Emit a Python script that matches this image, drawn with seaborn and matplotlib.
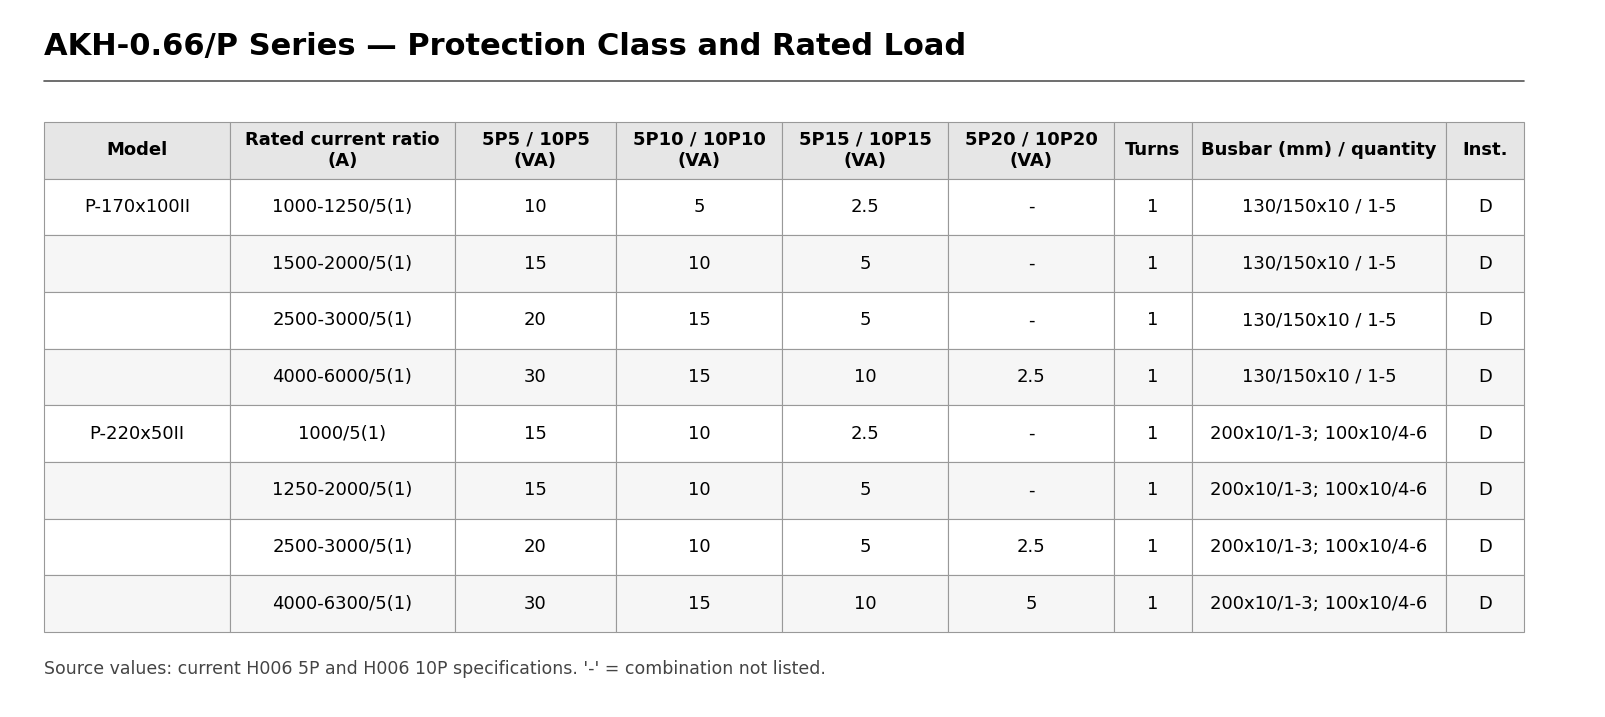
import matplotlib.pyplot as plt
import seaborn as sns

sns.set_theme(style="white")
plt.rcParams['font.family'] = ['DejaVu Sans']
plt.rcParams['font.sans-serif'] = ['DejaVu Sans']
plt.rcParams['text.color'] = 'black'

# --- data ---
columns = ["Model", "Rated current ratio\n(A)", "5P5 / 10P5\n(VA)", "5P10 / 10P10\n(VA)",
           "5P15 / 10P15\n(VA)", "5P20 / 10P20\n(VA)", "Turns", "Busbar (mm) / quantity", "Inst."]
models = ["P-170x100II", "", "", "", "P-220x50II", "", "", ""]
ratios = ["1000-1250/5(1)", "1500-2000/5(1)", "2500-3000/5(1)", "4000-6000/5(1)",
          "1000/5(1)", "1250-2000/5(1)", "2500-3000/5(1)", "4000-6300/5(1)"]
va_5 = ["10", "15", "20", "30", "15", "15", "20", "30"]
va_10 = ["5", "10", "15", "15", "10", "10", "10", "15"]
va_15 = ["2.5", "5", "5", "10", "2.5", "5", "5", "10"]
va_20 = ["-", "-", "-", "2.5", "-", "-", "2.5", "5"]
turns = ["1"] * 8
busbar = ["130/150x10 / 1-5"] * 4 + ["200x10/1-3; 100x10/4-6"] * 4
inst = ["D"] * 8

col_px = [186, 225, 161, 166, 166, 166, 78, 254, 78]
rows = [list(r) for r in zip(models, ratios, va_5, va_10, va_15, va_20, turns, busbar, inst)]

W, H = 1605, 717
fig = plt.figure(figsize=(W / 100, H / 100), dpi=100, facecolor="white")
fig.text(44 / W, 1 - 46 / H, "AKH-0.66/P Series — Protection Class and Rated Load",
         fontsize=22, fontweight="bold", va="center", ha="left", color="black",
         family="DejaVu Sans")
fig.add_artist(plt.Line2D([44 / W, 1524 / W], [1 - 81 / H, 1 - 81 / H], color="#555555", lw=1.2))
fig.text(44 / W, 1 - 669 / H,
         "Source values: current H006 5P and H006 10P specifications. '-' = combination not listed.",
         fontsize=12.5, color="#444444", va="center", ha="left", family="DejaVu Sans")

ax = fig.add_axes([44 / W, (H - 632) / H, 1480 / W, 510 / H])
ax.axis("off")
total = sum(col_px)
tbl = ax.table(cellText=rows, colLabels=columns, cellLoc="center",
               colWidths=[c / total for c in col_px], bbox=[0, 0, 1, 1])
tbl.auto_set_font_size(False)
for (r, c), cell in tbl.get_celld().items():
    cell.set_edgecolor("#999999")
    cell.set_linewidth(0.8)
    txt = cell.get_text()
    txt.set_fontsize(13)
    txt.set_color("black")
    txt.set_family("DejaVu Sans")
    if r == 0:
        cell.set_facecolor("#e6e6e6")
        txt.set_fontweight("bold")
    else:
        cell.set_facecolor("#ffffff" if r % 2 == 1 else "#f6f6f6")

fig.savefig("out.png", dpi=100, facecolor="white")
